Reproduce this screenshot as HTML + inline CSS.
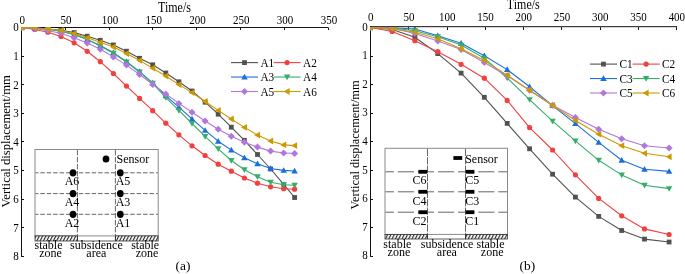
<!DOCTYPE html>
<html><head><meta charset="utf-8"><title>Vertical displacement</title>
<style>
html,body{margin:0;padding:0;background:#fff;}
body{width:685px;height:274px;overflow:hidden;}
svg{display:block;will-change:transform;}
text{font-family:"Liberation Serif",serif;fill:#000;}
.tk{font-size:11px;}
.ti{font-size:12px;}
.lg{font-size:11.3px;}
.in{font-size:12px;}
.pl{font-size:13.4px;}
</style></head><body>
<svg width="685" height="274" viewBox="0 0 685 274">
<defs>
<clipPath id="clipL"><rect x="21" y="27" width="320" height="240"/></clipPath>
<clipPath id="clipR"><rect x="370" y="27" width="320" height="240"/></clipPath>
<pattern id="hatch" patternUnits="userSpaceOnUse" width="2.95" height="4" patternTransform="rotate(27)">
<rect width="2.95" height="4" fill="#fff"/><rect x="0" y="0" width="1.15" height="4" fill="#2a2a2a"/>
</pattern>
</defs>
<rect width="685" height="274" fill="#fff"/>
<rect x="35" y="149.5" width="123.19999999999999" height="86.4" fill="#fff" stroke="#8a8a8a" stroke-width="1"/>
<rect x="35" y="235.9" width="42.400000000000006" height="5.099999999999994" fill="url(#hatch)" stroke="#333" stroke-width="0.8"/>
<rect x="115.4" y="235.9" width="42.79999999999998" height="5.099999999999994" fill="url(#hatch)" stroke="#333" stroke-width="0.8"/>
<line x1="77.4" y1="241" x2="115.4" y2="241" stroke="#333" stroke-width="0.8"/>
<line x1="35.5" y1="172.8" x2="157.7" y2="172.8" stroke="#555" stroke-width="0.9" stroke-dasharray="4.5 1.92" stroke-dashoffset="1.6"/>
<line x1="35.5" y1="193.6" x2="157.7" y2="193.6" stroke="#555" stroke-width="0.9" stroke-dasharray="4.5 1.92" stroke-dashoffset="1.6"/>
<line x1="35.5" y1="214.3" x2="157.7" y2="214.3" stroke="#555" stroke-width="0.9" stroke-dasharray="4.5 1.92" stroke-dashoffset="1.6"/>
<line x1="77.4" y1="150.0" x2="77.4" y2="235.9" stroke="#555" stroke-width="0.9" stroke-dasharray="5.4 1.6" stroke-dashoffset="0"/>
<line x1="77.4" y1="235.9" x2="77.4" y2="241" stroke="#333" stroke-width="0.9"/>
<line x1="115.4" y1="150.0" x2="115.4" y2="235.9" stroke="#555" stroke-width="0.9" stroke-dasharray="5.4 1.6" stroke-dashoffset="0"/>
<line x1="115.4" y1="235.9" x2="115.4" y2="241" stroke="#333" stroke-width="0.9"/>
<ellipse cx="106" cy="159" rx="3.4" ry="3.6" fill="#000"/>
<ellipse cx="73" cy="172.8" rx="3.4" ry="3.6" fill="#000"/>
<ellipse cx="120.3" cy="172.8" rx="3.4" ry="3.6" fill="#000"/>
<ellipse cx="73" cy="193.6" rx="3.4" ry="3.6" fill="#000"/>
<ellipse cx="120.3" cy="193.6" rx="3.4" ry="3.6" fill="#000"/>
<ellipse cx="73" cy="214.3" rx="3.4" ry="3.6" fill="#000"/>
<ellipse cx="120.3" cy="214.3" rx="3.4" ry="3.6" fill="#000"/>
<text transform="translate(116.60,163.20) scale(1,1.0)" text-anchor="start" class="in">Sensor</text>
<text transform="translate(72.00,185.40) scale(1,1.0)" text-anchor="middle" class="in">A6</text>
<text transform="translate(123.00,185.40) scale(1,1.0)" text-anchor="middle" class="in">A5</text>
<text transform="translate(72.00,206.20) scale(1,1.0)" text-anchor="middle" class="in">A4</text>
<text transform="translate(123.00,206.20) scale(1,1.0)" text-anchor="middle" class="in">A3</text>
<text transform="translate(72.00,226.90) scale(1,1.0)" text-anchor="middle" class="in">A2</text>
<text transform="translate(123.00,226.90) scale(1,1.0)" text-anchor="middle" class="in">A1</text>
<text transform="translate(48.50,248.80) scale(1,1.0)" text-anchor="middle" class="in">stable</text>
<text transform="translate(50.50,256.90) scale(1,1.0)" text-anchor="middle" class="in">zone</text>
<text transform="translate(96.40,248.80) scale(1,1.0)" text-anchor="middle" class="in">subsidence</text>
<text transform="translate(96.30,256.90) scale(1,1.0)" text-anchor="middle" class="in">area</text>
<text transform="translate(145.20,248.80) scale(1,1.0)" text-anchor="middle" class="in">stable</text>
<text transform="translate(147.10,256.90) scale(1,1.0)" text-anchor="middle" class="in">zone</text>
<rect x="385" y="148.3" width="122.5" height="86.1" fill="#fff" stroke="#8a8a8a" stroke-width="1"/>
<rect x="385" y="234.4" width="42.5" height="4.599999999999994" fill="url(#hatch)" stroke="#333" stroke-width="0.8"/>
<rect x="465.5" y="234.4" width="42.0" height="4.599999999999994" fill="url(#hatch)" stroke="#333" stroke-width="0.8"/>
<line x1="427.5" y1="239.0" x2="465.5" y2="239.0" stroke="#333" stroke-width="0.8"/>
<line x1="385.5" y1="171.8" x2="507.0" y2="171.8" stroke="#555" stroke-width="0.9" stroke-dasharray="16.2 3.9" stroke-dashoffset="7.8"/>
<line x1="385.5" y1="191.8" x2="507.0" y2="191.8" stroke="#555" stroke-width="0.9" stroke-dasharray="16.2 3.9" stroke-dashoffset="7.8"/>
<line x1="385.5" y1="212.2" x2="507.0" y2="212.2" stroke="#555" stroke-width="0.9" stroke-dasharray="16.2 3.9" stroke-dashoffset="7.8"/>
<line x1="427.5" y1="148.8" x2="427.5" y2="234.4" stroke="#555" stroke-width="0.9" stroke-dasharray="7.2 1.2" stroke-dashoffset="0"/>
<line x1="427.5" y1="234.4" x2="427.5" y2="239.0" stroke="#333" stroke-width="0.9"/>
<line x1="465.5" y1="148.8" x2="465.5" y2="234.4" stroke="#555" stroke-width="0.9" stroke-dasharray="7.2 1.2" stroke-dashoffset="0"/>
<line x1="465.5" y1="234.4" x2="465.5" y2="239.0" stroke="#333" stroke-width="0.9"/>
<rect x="453.4" y="156.1" width="8.8" height="3.8" fill="#000"/>
<rect x="418.4" y="169.9" width="8.8" height="3.8" fill="#000"/>
<rect x="465.6" y="169.9" width="8.8" height="3.8" fill="#000"/>
<rect x="418.4" y="189.9" width="8.8" height="3.8" fill="#000"/>
<rect x="465.6" y="189.9" width="8.8" height="3.8" fill="#000"/>
<rect x="418.4" y="210.29999999999998" width="8.8" height="3.8" fill="#000"/>
<rect x="465.6" y="210.29999999999998" width="8.8" height="3.8" fill="#000"/>
<text transform="translate(465.20,162.60) scale(1,1.0)" text-anchor="start" class="in">Sensor</text>
<text transform="translate(426.40,183.90) scale(1,1.0)" text-anchor="end" class="in">C6</text>
<text transform="translate(465.20,183.90) scale(1,1.0)" text-anchor="start" class="in">C5</text>
<text transform="translate(426.40,204.50) scale(1,1.0)" text-anchor="end" class="in">C4</text>
<text transform="translate(465.20,204.50) scale(1,1.0)" text-anchor="start" class="in">C3</text>
<text transform="translate(426.40,225.10) scale(1,1.0)" text-anchor="end" class="in">C2</text>
<text transform="translate(465.20,225.10) scale(1,1.0)" text-anchor="start" class="in">C1</text>
<text transform="translate(397.30,248.20) scale(1,1.0)" text-anchor="middle" class="in">stable</text>
<text transform="translate(398.90,256.30) scale(1,1.0)" text-anchor="middle" class="in">zone</text>
<text transform="translate(447.10,248.20) scale(1,1.0)" text-anchor="middle" class="in">subsidence</text>
<text transform="translate(446.80,256.30) scale(1,1.0)" text-anchor="middle" class="in">area</text>
<text transform="translate(490.50,248.20) scale(1,1.0)" text-anchor="middle" class="in">stable</text>
<text transform="translate(492.20,256.30) scale(1,1.0)" text-anchor="middle" class="in">zone</text>
<line x1="21.00" y1="27.5" x2="328.60" y2="27.5" stroke="#111" stroke-width="1"/>
<line x1="21.50" y1="28.0" x2="21.50" y2="30" stroke="#111" stroke-width="1"/>
<text transform="translate(22.30,23.60) scale(1,1.2)" text-anchor="middle" class="tk">0</text>
<line x1="65.50" y1="28.0" x2="65.50" y2="30" stroke="#111" stroke-width="1"/>
<text transform="translate(66.10,23.60) scale(1,1.2)" text-anchor="middle" class="tk">50</text>
<line x1="109.50" y1="28.0" x2="109.50" y2="30" stroke="#111" stroke-width="1"/>
<text transform="translate(109.90,23.60) scale(1,1.2)" text-anchor="middle" class="tk">100</text>
<line x1="152.50" y1="28.0" x2="152.50" y2="30" stroke="#111" stroke-width="1"/>
<text transform="translate(153.70,23.60) scale(1,1.2)" text-anchor="middle" class="tk">150</text>
<line x1="196.50" y1="28.0" x2="196.50" y2="30" stroke="#111" stroke-width="1"/>
<text transform="translate(197.50,23.60) scale(1,1.2)" text-anchor="middle" class="tk">200</text>
<line x1="240.50" y1="28.0" x2="240.50" y2="30" stroke="#111" stroke-width="1"/>
<text transform="translate(241.30,23.60) scale(1,1.2)" text-anchor="middle" class="tk">250</text>
<line x1="284.50" y1="28.0" x2="284.50" y2="30" stroke="#111" stroke-width="1"/>
<text transform="translate(285.10,23.60) scale(1,1.2)" text-anchor="middle" class="tk">300</text>
<line x1="328.50" y1="28.0" x2="328.50" y2="30" stroke="#111" stroke-width="1"/>
<text transform="translate(328.90,23.60) scale(1,1.2)" text-anchor="middle" class="tk">350</text>
<line x1="21.50" y1="27.0" x2="21.50" y2="256.9" stroke="#111" stroke-width="1"/>
<line x1="22.00" y1="27.50" x2="24.00" y2="27.50" stroke="#111" stroke-width="1"/>
<text transform="translate(18.70,31.30) scale(1,1.2)" text-anchor="end" class="tk">0</text>
<line x1="22.00" y1="56.50" x2="24.00" y2="56.50" stroke="#111" stroke-width="1"/>
<text transform="translate(18.70,59.91) scale(1,1.2)" text-anchor="end" class="tk">1</text>
<line x1="22.00" y1="84.50" x2="24.00" y2="84.50" stroke="#111" stroke-width="1"/>
<text transform="translate(18.70,88.52) scale(1,1.2)" text-anchor="end" class="tk">2</text>
<line x1="22.00" y1="113.50" x2="24.00" y2="113.50" stroke="#111" stroke-width="1"/>
<text transform="translate(18.70,117.13) scale(1,1.2)" text-anchor="end" class="tk">3</text>
<line x1="22.00" y1="141.50" x2="24.00" y2="141.50" stroke="#111" stroke-width="1"/>
<text transform="translate(18.70,145.74) scale(1,1.2)" text-anchor="end" class="tk">4</text>
<line x1="22.00" y1="170.50" x2="24.00" y2="170.50" stroke="#111" stroke-width="1"/>
<text transform="translate(18.70,174.35) scale(1,1.2)" text-anchor="end" class="tk">5</text>
<line x1="22.00" y1="199.50" x2="24.00" y2="199.50" stroke="#111" stroke-width="1"/>
<text transform="translate(18.70,202.96) scale(1,1.2)" text-anchor="end" class="tk">6</text>
<line x1="22.00" y1="227.50" x2="24.00" y2="227.50" stroke="#111" stroke-width="1"/>
<text transform="translate(18.70,231.57) scale(1,1.2)" text-anchor="end" class="tk">7</text>
<line x1="22.00" y1="256.50" x2="24.00" y2="256.50" stroke="#111" stroke-width="1"/>
<text transform="translate(18.70,260.18) scale(1,1.2)" text-anchor="end" class="tk">8</text>
<g clip-path="url(#clipL)">
<polyline points="21.70,27.50 34.80,28.00 47.90,29.00 61.00,30.30 74.10,32.60 87.20,36.20 100.30,40.30 113.40,44.90 126.50,51.20 139.60,58.30 152.70,64.80 165.80,73.00 178.90,81.80 192.00,91.00 205.10,102.20 218.20,114.20 231.30,127.20 244.40,140.30 257.50,154.50 270.60,169.00 283.70,184.40 294.60,197.50" fill="none" stroke="#515151" stroke-width="1.1" stroke-linejoin="round"/>
<rect x="19.30" y="25.10" width="4.80" height="4.80" fill="#515151"/>
<rect x="32.40" y="25.60" width="4.80" height="4.80" fill="#515151"/>
<rect x="45.50" y="26.60" width="4.80" height="4.80" fill="#515151"/>
<rect x="58.60" y="27.90" width="4.80" height="4.80" fill="#515151"/>
<rect x="71.70" y="30.20" width="4.80" height="4.80" fill="#515151"/>
<rect x="84.80" y="33.80" width="4.80" height="4.80" fill="#515151"/>
<rect x="97.90" y="37.90" width="4.80" height="4.80" fill="#515151"/>
<rect x="111.00" y="42.50" width="4.80" height="4.80" fill="#515151"/>
<rect x="124.10" y="48.80" width="4.80" height="4.80" fill="#515151"/>
<rect x="137.20" y="55.90" width="4.80" height="4.80" fill="#515151"/>
<rect x="150.30" y="62.40" width="4.80" height="4.80" fill="#515151"/>
<rect x="163.40" y="70.60" width="4.80" height="4.80" fill="#515151"/>
<rect x="176.50" y="79.40" width="4.80" height="4.80" fill="#515151"/>
<rect x="189.60" y="88.60" width="4.80" height="4.80" fill="#515151"/>
<rect x="202.70" y="99.80" width="4.80" height="4.80" fill="#515151"/>
<rect x="215.80" y="111.80" width="4.80" height="4.80" fill="#515151"/>
<rect x="228.90" y="124.80" width="4.80" height="4.80" fill="#515151"/>
<rect x="242.00" y="137.90" width="4.80" height="4.80" fill="#515151"/>
<rect x="255.10" y="152.10" width="4.80" height="4.80" fill="#515151"/>
<rect x="268.20" y="166.60" width="4.80" height="4.80" fill="#515151"/>
<rect x="281.30" y="182.00" width="4.80" height="4.80" fill="#515151"/>
<rect x="292.20" y="195.10" width="4.80" height="4.80" fill="#515151"/>
<polyline points="21.70,27.50 34.80,29.50 47.90,32.20 61.00,36.40 74.10,42.80 87.20,51.30 100.30,61.70 113.40,73.50 126.50,86.10 139.60,98.40 152.70,110.70 165.80,123.20 178.90,134.80 192.00,145.80 205.10,155.50 218.20,164.20 231.30,171.20 244.40,178.00 257.50,183.20 270.60,186.80 283.70,188.70 294.60,189.20" fill="none" stroke="#F14040" stroke-width="1.1" stroke-linejoin="round"/>
<circle cx="21.70" cy="27.50" r="2.60" fill="#F14040"/>
<circle cx="34.80" cy="29.50" r="2.60" fill="#F14040"/>
<circle cx="47.90" cy="32.20" r="2.60" fill="#F14040"/>
<circle cx="61.00" cy="36.40" r="2.60" fill="#F14040"/>
<circle cx="74.10" cy="42.80" r="2.60" fill="#F14040"/>
<circle cx="87.20" cy="51.30" r="2.60" fill="#F14040"/>
<circle cx="100.30" cy="61.70" r="2.60" fill="#F14040"/>
<circle cx="113.40" cy="73.50" r="2.60" fill="#F14040"/>
<circle cx="126.50" cy="86.10" r="2.60" fill="#F14040"/>
<circle cx="139.60" cy="98.40" r="2.60" fill="#F14040"/>
<circle cx="152.70" cy="110.70" r="2.60" fill="#F14040"/>
<circle cx="165.80" cy="123.20" r="2.60" fill="#F14040"/>
<circle cx="178.90" cy="134.80" r="2.60" fill="#F14040"/>
<circle cx="192.00" cy="145.80" r="2.60" fill="#F14040"/>
<circle cx="205.10" cy="155.50" r="2.60" fill="#F14040"/>
<circle cx="218.20" cy="164.20" r="2.60" fill="#F14040"/>
<circle cx="231.30" cy="171.20" r="2.60" fill="#F14040"/>
<circle cx="244.40" cy="178.00" r="2.60" fill="#F14040"/>
<circle cx="257.50" cy="183.20" r="2.60" fill="#F14040"/>
<circle cx="270.60" cy="186.80" r="2.60" fill="#F14040"/>
<circle cx="283.70" cy="188.70" r="2.60" fill="#F14040"/>
<circle cx="294.60" cy="189.20" r="2.60" fill="#F14040"/>
<polyline points="21.70,27.50 34.80,28.00 47.90,29.30 61.00,31.20 74.10,34.50 87.20,39.50 100.30,45.50 113.40,52.80 126.50,61.80 139.60,71.80 152.70,83.00 165.80,95.80 178.90,107.20 192.00,118.90 205.10,130.40 218.20,141.20 231.30,150.10 244.40,157.80 257.50,163.80 270.60,168.50 283.70,170.40 294.60,171.00" fill="none" stroke="#1A6FDF" stroke-width="1.1" stroke-linejoin="round"/>
<path d="M21.70 24.25L24.95 29.94L18.45 29.94Z" fill="#1A6FDF"/>
<path d="M34.80 24.75L38.05 30.44L31.55 30.44Z" fill="#1A6FDF"/>
<path d="M47.90 26.05L51.15 31.74L44.65 31.74Z" fill="#1A6FDF"/>
<path d="M61.00 27.95L64.25 33.64L57.75 33.64Z" fill="#1A6FDF"/>
<path d="M74.10 31.25L77.35 36.94L70.85 36.94Z" fill="#1A6FDF"/>
<path d="M87.20 36.25L90.45 41.94L83.95 41.94Z" fill="#1A6FDF"/>
<path d="M100.30 42.25L103.55 47.94L97.05 47.94Z" fill="#1A6FDF"/>
<path d="M113.40 49.55L116.65 55.24L110.15 55.24Z" fill="#1A6FDF"/>
<path d="M126.50 58.55L129.75 64.24L123.25 64.24Z" fill="#1A6FDF"/>
<path d="M139.60 68.55L142.85 74.24L136.35 74.24Z" fill="#1A6FDF"/>
<path d="M152.70 79.75L155.95 85.44L149.45 85.44Z" fill="#1A6FDF"/>
<path d="M165.80 92.55L169.05 98.24L162.55 98.24Z" fill="#1A6FDF"/>
<path d="M178.90 103.95L182.15 109.64L175.65 109.64Z" fill="#1A6FDF"/>
<path d="M192.00 115.65L195.25 121.34L188.75 121.34Z" fill="#1A6FDF"/>
<path d="M205.10 127.15L208.35 132.84L201.85 132.84Z" fill="#1A6FDF"/>
<path d="M218.20 137.95L221.45 143.64L214.95 143.64Z" fill="#1A6FDF"/>
<path d="M231.30 146.85L234.55 152.54L228.05 152.54Z" fill="#1A6FDF"/>
<path d="M244.40 154.55L247.65 160.24L241.15 160.24Z" fill="#1A6FDF"/>
<path d="M257.50 160.55L260.75 166.24L254.25 166.24Z" fill="#1A6FDF"/>
<path d="M270.60 165.25L273.85 170.94L267.35 170.94Z" fill="#1A6FDF"/>
<path d="M283.70 167.15L286.95 172.84L280.45 172.84Z" fill="#1A6FDF"/>
<path d="M294.60 167.75L297.85 173.44L291.35 173.44Z" fill="#1A6FDF"/>
<polyline points="21.70,27.50 34.80,28.00 47.90,29.30 61.00,31.20 74.10,34.50 87.20,39.50 100.30,45.90 113.40,53.20 126.50,62.00 139.60,72.00 152.70,83.30 165.80,97.60 178.90,110.40 192.00,123.50 205.10,136.40 218.20,148.80 231.30,160.50 244.40,169.80 257.50,176.80 270.60,182.30 283.70,184.70 294.60,185.30" fill="none" stroke="#37AD6B" stroke-width="1.1" stroke-linejoin="round"/>
<path d="M21.70 30.75L24.95 25.06L18.45 25.06Z" fill="#37AD6B"/>
<path d="M34.80 31.25L38.05 25.56L31.55 25.56Z" fill="#37AD6B"/>
<path d="M47.90 32.55L51.15 26.86L44.65 26.86Z" fill="#37AD6B"/>
<path d="M61.00 34.45L64.25 28.76L57.75 28.76Z" fill="#37AD6B"/>
<path d="M74.10 37.75L77.35 32.06L70.85 32.06Z" fill="#37AD6B"/>
<path d="M87.20 42.75L90.45 37.06L83.95 37.06Z" fill="#37AD6B"/>
<path d="M100.30 49.15L103.55 43.46L97.05 43.46Z" fill="#37AD6B"/>
<path d="M113.40 56.45L116.65 50.76L110.15 50.76Z" fill="#37AD6B"/>
<path d="M126.50 65.25L129.75 59.56L123.25 59.56Z" fill="#37AD6B"/>
<path d="M139.60 75.25L142.85 69.56L136.35 69.56Z" fill="#37AD6B"/>
<path d="M152.70 86.55L155.95 80.86L149.45 80.86Z" fill="#37AD6B"/>
<path d="M165.80 100.85L169.05 95.16L162.55 95.16Z" fill="#37AD6B"/>
<path d="M178.90 113.65L182.15 107.96L175.65 107.96Z" fill="#37AD6B"/>
<path d="M192.00 126.75L195.25 121.06L188.75 121.06Z" fill="#37AD6B"/>
<path d="M205.10 139.65L208.35 133.96L201.85 133.96Z" fill="#37AD6B"/>
<path d="M218.20 152.05L221.45 146.36L214.95 146.36Z" fill="#37AD6B"/>
<path d="M231.30 163.75L234.55 158.06L228.05 158.06Z" fill="#37AD6B"/>
<path d="M244.40 173.05L247.65 167.36L241.15 167.36Z" fill="#37AD6B"/>
<path d="M257.50 180.05L260.75 174.36L254.25 174.36Z" fill="#37AD6B"/>
<path d="M270.60 185.55L273.85 179.86L267.35 179.86Z" fill="#37AD6B"/>
<path d="M283.70 187.95L286.95 182.26L280.45 182.26Z" fill="#37AD6B"/>
<path d="M294.60 188.55L297.85 182.86L291.35 182.86Z" fill="#37AD6B"/>
<polyline points="21.70,27.50 34.80,28.50 47.90,30.80 61.00,33.30 74.10,37.80 87.20,43.00 100.30,49.20 113.40,56.90 126.50,65.10 139.60,74.50 152.70,84.40 165.80,94.00 178.90,103.40 192.00,112.30 205.10,121.00 218.20,129.20 231.30,136.30 244.40,142.30 257.50,147.10 270.60,151.10 283.70,153.00 294.60,153.40" fill="none" stroke="#B177DE" stroke-width="1.1" stroke-linejoin="round"/>
<path d="M21.70 23.99L25.21 27.50L21.70 31.01L18.19 27.50Z" fill="#B177DE"/>
<path d="M34.80 24.99L38.31 28.50L34.80 32.01L31.29 28.50Z" fill="#B177DE"/>
<path d="M47.90 27.29L51.41 30.80L47.90 34.31L44.39 30.80Z" fill="#B177DE"/>
<path d="M61.00 29.79L64.51 33.30L61.00 36.81L57.49 33.30Z" fill="#B177DE"/>
<path d="M74.10 34.29L77.61 37.80L74.10 41.31L70.59 37.80Z" fill="#B177DE"/>
<path d="M87.20 39.49L90.71 43.00L87.20 46.51L83.69 43.00Z" fill="#B177DE"/>
<path d="M100.30 45.69L103.81 49.20L100.30 52.71L96.79 49.20Z" fill="#B177DE"/>
<path d="M113.40 53.39L116.91 56.90L113.40 60.41L109.89 56.90Z" fill="#B177DE"/>
<path d="M126.50 61.59L130.01 65.10L126.50 68.61L122.99 65.10Z" fill="#B177DE"/>
<path d="M139.60 70.99L143.11 74.50L139.60 78.01L136.09 74.50Z" fill="#B177DE"/>
<path d="M152.70 80.89L156.21 84.40L152.70 87.91L149.19 84.40Z" fill="#B177DE"/>
<path d="M165.80 90.49L169.31 94.00L165.80 97.51L162.29 94.00Z" fill="#B177DE"/>
<path d="M178.90 99.89L182.41 103.40L178.90 106.91L175.39 103.40Z" fill="#B177DE"/>
<path d="M192.00 108.79L195.51 112.30L192.00 115.81L188.49 112.30Z" fill="#B177DE"/>
<path d="M205.10 117.49L208.61 121.00L205.10 124.51L201.59 121.00Z" fill="#B177DE"/>
<path d="M218.20 125.69L221.71 129.20L218.20 132.71L214.69 129.20Z" fill="#B177DE"/>
<path d="M231.30 132.79L234.81 136.30L231.30 139.81L227.79 136.30Z" fill="#B177DE"/>
<path d="M244.40 138.79L247.91 142.30L244.40 145.81L240.89 142.30Z" fill="#B177DE"/>
<path d="M257.50 143.59L261.01 147.10L257.50 150.61L253.99 147.10Z" fill="#B177DE"/>
<path d="M270.60 147.59L274.11 151.10L270.60 154.61L267.09 151.10Z" fill="#B177DE"/>
<path d="M283.70 149.49L287.21 153.00L283.70 156.51L280.19 153.00Z" fill="#B177DE"/>
<path d="M294.60 149.89L298.11 153.40L294.60 156.91L291.09 153.40Z" fill="#B177DE"/>
<polyline points="21.70,27.50 34.80,27.80 47.90,29.00 61.00,30.50 74.10,33.60 87.20,37.80 100.30,42.30 113.40,47.00 126.50,53.50 139.60,60.40 152.70,68.20 165.80,76.00 178.90,84.60 192.00,92.60 205.10,101.50 218.20,110.40 231.30,119.00 244.40,127.40 257.50,135.10 270.60,141.00 283.70,144.90 294.60,145.60" fill="none" stroke="#CC9900" stroke-width="1.1" stroke-linejoin="round"/>
<path d="M18.32 27.50L24.23 24.12L24.23 30.88Z" fill="#CC9900"/>
<path d="M31.42 27.80L37.33 24.42L37.33 31.18Z" fill="#CC9900"/>
<path d="M44.52 29.00L50.44 25.62L50.44 32.38Z" fill="#CC9900"/>
<path d="M57.62 30.50L63.53 27.12L63.53 33.88Z" fill="#CC9900"/>
<path d="M70.72 33.60L76.63 30.22L76.63 36.98Z" fill="#CC9900"/>
<path d="M83.82 37.80L89.73 34.42L89.73 41.18Z" fill="#CC9900"/>
<path d="M96.92 42.30L102.83 38.92L102.83 45.68Z" fill="#CC9900"/>
<path d="M110.02 47.00L115.94 43.62L115.94 50.38Z" fill="#CC9900"/>
<path d="M123.12 53.50L129.03 50.12L129.03 56.88Z" fill="#CC9900"/>
<path d="M136.22 60.40L142.13 57.02L142.13 63.78Z" fill="#CC9900"/>
<path d="M149.32 68.20L155.23 64.82L155.23 71.58Z" fill="#CC9900"/>
<path d="M162.42 76.00L168.33 72.62L168.33 79.38Z" fill="#CC9900"/>
<path d="M175.52 84.60L181.43 81.22L181.43 87.98Z" fill="#CC9900"/>
<path d="M188.62 92.60L194.53 89.22L194.53 95.98Z" fill="#CC9900"/>
<path d="M201.72 101.50L207.63 98.12L207.63 104.88Z" fill="#CC9900"/>
<path d="M214.82 110.40L220.73 107.02L220.73 113.78Z" fill="#CC9900"/>
<path d="M227.92 119.00L233.83 115.62L233.83 122.38Z" fill="#CC9900"/>
<path d="M241.02 127.40L246.93 124.02L246.93 130.78Z" fill="#CC9900"/>
<path d="M254.12 135.10L260.04 131.72L260.04 138.48Z" fill="#CC9900"/>
<path d="M267.22 141.00L273.14 137.62L273.14 144.38Z" fill="#CC9900"/>
<path d="M280.32 144.90L286.24 141.52L286.24 148.28Z" fill="#CC9900"/>
<path d="M291.22 145.60L297.14 142.22L297.14 148.98Z" fill="#CC9900"/>
</g>
<text transform="translate(174.50,11.70) scale(1,1.15)" text-anchor="middle" class="ti">Time/s</text>
<text transform="translate(9.70,141.30) rotate(-90) scale(1.054,1)" text-anchor="middle" class="ti">Vertical displacement/mm</text>
<text transform="translate(183.00,270.30) scale(1,1.0)" text-anchor="middle" class="pl">(a)</text>
<line x1="231.00" y1="62.60" x2="258.00" y2="62.60" stroke="#515151" stroke-width="1.1"/>
<rect x="242.10" y="60.20" width="4.80" height="4.80" fill="#515151"/>
<text transform="translate(260.40,66.70) scale(1,1.08)" text-anchor="start" class="lg">A1</text>
<line x1="273.60" y1="62.60" x2="300.60" y2="62.60" stroke="#F14040" stroke-width="1.1"/>
<circle cx="287.10" cy="62.60" r="2.60" fill="#F14040"/>
<text transform="translate(303.00,66.70) scale(1,1.08)" text-anchor="start" class="lg">A2</text>
<line x1="231.00" y1="77.05" x2="258.00" y2="77.05" stroke="#1A6FDF" stroke-width="1.1"/>
<path d="M244.50 73.80L247.75 79.49L241.25 79.49Z" fill="#1A6FDF"/>
<text transform="translate(260.40,81.15) scale(1,1.08)" text-anchor="start" class="lg">A3</text>
<line x1="273.60" y1="77.05" x2="300.60" y2="77.05" stroke="#37AD6B" stroke-width="1.1"/>
<path d="M287.10 80.30L290.35 74.61L283.85 74.61Z" fill="#37AD6B"/>
<text transform="translate(303.00,81.15) scale(1,1.08)" text-anchor="start" class="lg">A4</text>
<line x1="231.00" y1="91.50" x2="258.00" y2="91.50" stroke="#B177DE" stroke-width="1.1"/>
<path d="M244.50 87.99L248.01 91.50L244.50 95.01L240.99 91.50Z" fill="#B177DE"/>
<text transform="translate(260.40,95.60) scale(1,1.08)" text-anchor="start" class="lg">A5</text>
<line x1="273.60" y1="91.50" x2="300.60" y2="91.50" stroke="#CC9900" stroke-width="1.1"/>
<path d="M283.72 91.50L289.64 88.12L289.64 94.88Z" fill="#CC9900"/>
<text transform="translate(303.00,95.60) scale(1,1.08)" text-anchor="start" class="lg">A6</text>
<line x1="370.00" y1="26.7" x2="677.16" y2="26.7" stroke="#111" stroke-width="1"/>
<line x1="370.50" y1="27.2" x2="370.50" y2="30" stroke="#111" stroke-width="1"/>
<text transform="translate(370.70,20.90) scale(1,1.2)" text-anchor="middle" class="tk">0</text>
<line x1="408.50" y1="27.2" x2="408.50" y2="30" stroke="#111" stroke-width="1"/>
<text transform="translate(408.97,20.90) scale(1,1.2)" text-anchor="middle" class="tk">50</text>
<line x1="447.50" y1="27.2" x2="447.50" y2="30" stroke="#111" stroke-width="1"/>
<text transform="translate(447.24,20.90) scale(1,1.2)" text-anchor="middle" class="tk">100</text>
<line x1="485.50" y1="27.2" x2="485.50" y2="30" stroke="#111" stroke-width="1"/>
<text transform="translate(485.51,20.90) scale(1,1.2)" text-anchor="middle" class="tk">150</text>
<line x1="523.50" y1="27.2" x2="523.50" y2="30" stroke="#111" stroke-width="1"/>
<text transform="translate(523.78,20.90) scale(1,1.2)" text-anchor="middle" class="tk">200</text>
<line x1="561.50" y1="27.2" x2="561.50" y2="30" stroke="#111" stroke-width="1"/>
<text transform="translate(562.05,20.90) scale(1,1.2)" text-anchor="middle" class="tk">250</text>
<line x1="600.50" y1="27.2" x2="600.50" y2="30" stroke="#111" stroke-width="1"/>
<text transform="translate(600.32,20.90) scale(1,1.2)" text-anchor="middle" class="tk">300</text>
<line x1="638.50" y1="27.2" x2="638.50" y2="30" stroke="#111" stroke-width="1"/>
<text transform="translate(638.59,20.90) scale(1,1.2)" text-anchor="middle" class="tk">350</text>
<line x1="676.50" y1="27.2" x2="676.50" y2="30" stroke="#111" stroke-width="1"/>
<text transform="translate(676.86,20.90) scale(1,1.2)" text-anchor="middle" class="tk">400</text>
<line x1="370.50" y1="26.2" x2="370.50" y2="256.9" stroke="#111" stroke-width="1"/>
<line x1="371.00" y1="27.50" x2="373.00" y2="27.50" stroke="#111" stroke-width="1"/>
<text transform="translate(367.70,30.60) scale(1,1.2)" text-anchor="end" class="tk">0</text>
<line x1="371.00" y1="56.50" x2="373.00" y2="56.50" stroke="#111" stroke-width="1"/>
<text transform="translate(367.70,59.21) scale(1,1.2)" text-anchor="end" class="tk">1</text>
<line x1="371.00" y1="84.50" x2="373.00" y2="84.50" stroke="#111" stroke-width="1"/>
<text transform="translate(367.70,87.82) scale(1,1.2)" text-anchor="end" class="tk">2</text>
<line x1="371.00" y1="113.50" x2="373.00" y2="113.50" stroke="#111" stroke-width="1"/>
<text transform="translate(367.70,116.43) scale(1,1.2)" text-anchor="end" class="tk">3</text>
<line x1="371.00" y1="141.50" x2="373.00" y2="141.50" stroke="#111" stroke-width="1"/>
<text transform="translate(367.70,145.04) scale(1,1.2)" text-anchor="end" class="tk">4</text>
<line x1="371.00" y1="170.50" x2="373.00" y2="170.50" stroke="#111" stroke-width="1"/>
<text transform="translate(367.70,173.65) scale(1,1.2)" text-anchor="end" class="tk">5</text>
<line x1="371.00" y1="199.50" x2="373.00" y2="199.50" stroke="#111" stroke-width="1"/>
<text transform="translate(367.70,202.26) scale(1,1.2)" text-anchor="end" class="tk">6</text>
<line x1="371.00" y1="227.50" x2="373.00" y2="227.50" stroke="#111" stroke-width="1"/>
<text transform="translate(367.70,230.87) scale(1,1.2)" text-anchor="end" class="tk">7</text>
<line x1="371.00" y1="256.50" x2="373.00" y2="256.50" stroke="#111" stroke-width="1"/>
<text transform="translate(367.70,259.48) scale(1,1.2)" text-anchor="end" class="tk">8</text>
<g clip-path="url(#clipR)">
<polyline points="370.00,27.50 392.20,29.50 414.90,37.30 437.80,53.60 461.10,73.10 484.30,97.30 507.20,123.40 529.60,148.80 552.60,174.20 575.40,197.10 598.70,216.40 621.70,230.50 644.50,239.10 669.10,242.00" fill="none" stroke="#515151" stroke-width="1.1" stroke-linejoin="round"/>
<rect x="367.60" y="25.10" width="4.80" height="4.80" fill="#515151"/>
<rect x="389.80" y="27.10" width="4.80" height="4.80" fill="#515151"/>
<rect x="412.50" y="34.90" width="4.80" height="4.80" fill="#515151"/>
<rect x="435.40" y="51.20" width="4.80" height="4.80" fill="#515151"/>
<rect x="458.70" y="70.70" width="4.80" height="4.80" fill="#515151"/>
<rect x="481.90" y="94.90" width="4.80" height="4.80" fill="#515151"/>
<rect x="504.80" y="121.00" width="4.80" height="4.80" fill="#515151"/>
<rect x="527.20" y="146.40" width="4.80" height="4.80" fill="#515151"/>
<rect x="550.20" y="171.80" width="4.80" height="4.80" fill="#515151"/>
<rect x="573.00" y="194.70" width="4.80" height="4.80" fill="#515151"/>
<rect x="596.30" y="214.00" width="4.80" height="4.80" fill="#515151"/>
<rect x="619.30" y="228.10" width="4.80" height="4.80" fill="#515151"/>
<rect x="642.10" y="236.70" width="4.80" height="4.80" fill="#515151"/>
<rect x="666.70" y="239.60" width="4.80" height="4.80" fill="#515151"/>
<polyline points="370.00,27.50 392.20,31.50 414.90,40.70 437.80,51.70 461.10,64.30 484.30,78.20 507.20,100.40 529.60,127.60 552.60,150.00 575.40,174.80 598.70,198.40 621.70,215.80 644.50,228.90 669.10,234.50" fill="none" stroke="#F14040" stroke-width="1.1" stroke-linejoin="round"/>
<circle cx="370.00" cy="27.50" r="2.60" fill="#F14040"/>
<circle cx="392.20" cy="31.50" r="2.60" fill="#F14040"/>
<circle cx="414.90" cy="40.70" r="2.60" fill="#F14040"/>
<circle cx="437.80" cy="51.70" r="2.60" fill="#F14040"/>
<circle cx="461.10" cy="64.30" r="2.60" fill="#F14040"/>
<circle cx="484.30" cy="78.20" r="2.60" fill="#F14040"/>
<circle cx="507.20" cy="100.40" r="2.60" fill="#F14040"/>
<circle cx="529.60" cy="127.60" r="2.60" fill="#F14040"/>
<circle cx="552.60" cy="150.00" r="2.60" fill="#F14040"/>
<circle cx="575.40" cy="174.80" r="2.60" fill="#F14040"/>
<circle cx="598.70" cy="198.40" r="2.60" fill="#F14040"/>
<circle cx="621.70" cy="215.80" r="2.60" fill="#F14040"/>
<circle cx="644.50" cy="228.90" r="2.60" fill="#F14040"/>
<circle cx="669.10" cy="234.50" r="2.60" fill="#F14040"/>
<polyline points="370.00,27.50 392.20,27.80 414.90,29.00 437.80,35.80 461.10,43.30 484.30,55.80 507.20,69.60 529.60,86.80 552.60,105.60 575.40,123.60 598.70,142.40 621.70,160.30 644.50,169.20 669.10,171.40" fill="none" stroke="#1A6FDF" stroke-width="1.1" stroke-linejoin="round"/>
<path d="M370.00 24.25L373.25 29.94L366.75 29.94Z" fill="#1A6FDF"/>
<path d="M392.20 24.55L395.45 30.24L388.95 30.24Z" fill="#1A6FDF"/>
<path d="M414.90 25.75L418.15 31.44L411.65 31.44Z" fill="#1A6FDF"/>
<path d="M437.80 32.55L441.05 38.24L434.55 38.24Z" fill="#1A6FDF"/>
<path d="M461.10 40.05L464.35 45.74L457.85 45.74Z" fill="#1A6FDF"/>
<path d="M484.30 52.55L487.55 58.24L481.05 58.24Z" fill="#1A6FDF"/>
<path d="M507.20 66.35L510.45 72.04L503.95 72.04Z" fill="#1A6FDF"/>
<path d="M529.60 83.55L532.85 89.24L526.35 89.24Z" fill="#1A6FDF"/>
<path d="M552.60 102.35L555.85 108.04L549.35 108.04Z" fill="#1A6FDF"/>
<path d="M575.40 120.35L578.65 126.04L572.15 126.04Z" fill="#1A6FDF"/>
<path d="M598.70 139.15L601.95 144.84L595.45 144.84Z" fill="#1A6FDF"/>
<path d="M621.70 157.05L624.95 162.74L618.45 162.74Z" fill="#1A6FDF"/>
<path d="M644.50 165.95L647.75 171.64L641.25 171.64Z" fill="#1A6FDF"/>
<path d="M669.10 168.15L672.35 173.84L665.85 173.84Z" fill="#1A6FDF"/>
<polyline points="370.00,27.50 392.20,28.00 414.90,30.80 437.80,36.80 461.10,45.10 484.30,58.20 507.20,78.00 529.60,99.60 552.60,121.20 575.40,140.90 598.70,160.30 621.70,174.90 644.50,185.30 669.10,188.60" fill="none" stroke="#37AD6B" stroke-width="1.1" stroke-linejoin="round"/>
<path d="M370.00 30.75L373.25 25.06L366.75 25.06Z" fill="#37AD6B"/>
<path d="M392.20 31.25L395.45 25.56L388.95 25.56Z" fill="#37AD6B"/>
<path d="M414.90 34.05L418.15 28.36L411.65 28.36Z" fill="#37AD6B"/>
<path d="M437.80 40.05L441.05 34.36L434.55 34.36Z" fill="#37AD6B"/>
<path d="M461.10 48.35L464.35 42.66L457.85 42.66Z" fill="#37AD6B"/>
<path d="M484.30 61.45L487.55 55.76L481.05 55.76Z" fill="#37AD6B"/>
<path d="M507.20 81.25L510.45 75.56L503.95 75.56Z" fill="#37AD6B"/>
<path d="M529.60 102.85L532.85 97.16L526.35 97.16Z" fill="#37AD6B"/>
<path d="M552.60 124.45L555.85 118.76L549.35 118.76Z" fill="#37AD6B"/>
<path d="M575.40 144.15L578.65 138.46L572.15 138.46Z" fill="#37AD6B"/>
<path d="M598.70 163.55L601.95 157.86L595.45 157.86Z" fill="#37AD6B"/>
<path d="M621.70 178.15L624.95 172.46L618.45 172.46Z" fill="#37AD6B"/>
<path d="M644.50 188.55L647.75 182.86L641.25 182.86Z" fill="#37AD6B"/>
<path d="M669.10 191.85L672.35 186.16L665.85 186.16Z" fill="#37AD6B"/>
<polyline points="370.00,27.50 392.20,28.20 414.90,33.50 437.80,41.00 461.10,49.40 484.30,62.50 507.20,75.80 529.60,90.20 552.60,105.20 575.40,117.40 598.70,129.30 621.70,138.70 644.50,145.70 669.10,148.00" fill="none" stroke="#B177DE" stroke-width="1.1" stroke-linejoin="round"/>
<path d="M370.00 23.99L373.51 27.50L370.00 31.01L366.49 27.50Z" fill="#B177DE"/>
<path d="M392.20 24.69L395.71 28.20L392.20 31.71L388.69 28.20Z" fill="#B177DE"/>
<path d="M414.90 29.99L418.41 33.50L414.90 37.01L411.39 33.50Z" fill="#B177DE"/>
<path d="M437.80 37.49L441.31 41.00L437.80 44.51L434.29 41.00Z" fill="#B177DE"/>
<path d="M461.10 45.89L464.61 49.40L461.10 52.91L457.59 49.40Z" fill="#B177DE"/>
<path d="M484.30 58.99L487.81 62.50L484.30 66.01L480.79 62.50Z" fill="#B177DE"/>
<path d="M507.20 72.29L510.71 75.80L507.20 79.31L503.69 75.80Z" fill="#B177DE"/>
<path d="M529.60 86.69L533.11 90.20L529.60 93.71L526.09 90.20Z" fill="#B177DE"/>
<path d="M552.60 101.69L556.11 105.20L552.60 108.71L549.09 105.20Z" fill="#B177DE"/>
<path d="M575.40 113.89L578.91 117.40L575.40 120.91L571.89 117.40Z" fill="#B177DE"/>
<path d="M598.70 125.79L602.21 129.30L598.70 132.81L595.19 129.30Z" fill="#B177DE"/>
<path d="M621.70 135.19L625.21 138.70L621.70 142.21L618.19 138.70Z" fill="#B177DE"/>
<path d="M644.50 142.19L648.01 145.70L644.50 149.21L640.99 145.70Z" fill="#B177DE"/>
<path d="M669.10 144.49L672.61 148.00L669.10 151.51L665.59 148.00Z" fill="#B177DE"/>
<polyline points="370.00,27.50 392.20,28.60 414.90,32.20 437.80,38.80 461.10,48.70 484.30,60.60 507.20,75.10 529.60,90.20 552.60,105.50 575.40,120.50 598.70,134.20 621.70,145.70 644.50,153.30 669.10,156.80" fill="none" stroke="#CC9900" stroke-width="1.1" stroke-linejoin="round"/>
<path d="M366.62 27.50L372.54 24.12L372.54 30.88Z" fill="#CC9900"/>
<path d="M388.82 28.60L394.74 25.22L394.74 31.98Z" fill="#CC9900"/>
<path d="M411.52 32.20L417.44 28.82L417.44 35.58Z" fill="#CC9900"/>
<path d="M434.42 38.80L440.34 35.42L440.34 42.18Z" fill="#CC9900"/>
<path d="M457.72 48.70L463.64 45.32L463.64 52.08Z" fill="#CC9900"/>
<path d="M480.92 60.60L486.84 57.22L486.84 63.98Z" fill="#CC9900"/>
<path d="M503.82 75.10L509.74 71.72L509.74 78.48Z" fill="#CC9900"/>
<path d="M526.22 90.20L532.13 86.82L532.13 93.58Z" fill="#CC9900"/>
<path d="M549.22 105.50L555.13 102.12L555.13 108.88Z" fill="#CC9900"/>
<path d="M572.02 120.50L577.93 117.12L577.93 123.88Z" fill="#CC9900"/>
<path d="M595.32 134.20L601.24 130.82L601.24 137.58Z" fill="#CC9900"/>
<path d="M618.32 145.70L624.24 142.32L624.24 149.08Z" fill="#CC9900"/>
<path d="M641.12 153.30L647.03 149.92L647.03 156.68Z" fill="#CC9900"/>
<path d="M665.72 156.80L671.63 153.42L671.63 160.18Z" fill="#CC9900"/>
</g>
<text transform="translate(523.28,9.10) scale(1,1.15)" text-anchor="middle" class="ti">Time/s</text>
<text transform="translate(358.50,145.00) rotate(-90) scale(1.027,1)" text-anchor="middle" class="ti">Vertical displacement/mm</text>
<text transform="translate(527.40,270.30) scale(1,1.0)" text-anchor="middle" class="pl">(b)</text>
<line x1="590.00" y1="64.10" x2="617.00" y2="64.10" stroke="#515151" stroke-width="1.1"/>
<rect x="601.10" y="61.70" width="4.80" height="4.80" fill="#515151"/>
<text transform="translate(619.40,68.20) scale(1,1.08)" text-anchor="start" class="lg">C1</text>
<line x1="632.60" y1="64.10" x2="659.60" y2="64.10" stroke="#F14040" stroke-width="1.1"/>
<circle cx="646.10" cy="64.10" r="2.60" fill="#F14040"/>
<text transform="translate(662.00,68.20) scale(1,1.08)" text-anchor="start" class="lg">C2</text>
<line x1="590.00" y1="78.55" x2="617.00" y2="78.55" stroke="#1A6FDF" stroke-width="1.1"/>
<path d="M603.50 75.30L606.75 80.99L600.25 80.99Z" fill="#1A6FDF"/>
<text transform="translate(619.40,82.65) scale(1,1.08)" text-anchor="start" class="lg">C3</text>
<line x1="632.60" y1="78.55" x2="659.60" y2="78.55" stroke="#37AD6B" stroke-width="1.1"/>
<path d="M646.10 81.80L649.35 76.11L642.85 76.11Z" fill="#37AD6B"/>
<text transform="translate(662.00,82.65) scale(1,1.08)" text-anchor="start" class="lg">C4</text>
<line x1="590.00" y1="93.00" x2="617.00" y2="93.00" stroke="#B177DE" stroke-width="1.1"/>
<path d="M603.50 89.49L607.01 93.00L603.50 96.51L599.99 93.00Z" fill="#B177DE"/>
<text transform="translate(619.40,97.10) scale(1,1.08)" text-anchor="start" class="lg">C5</text>
<line x1="632.60" y1="93.00" x2="659.60" y2="93.00" stroke="#CC9900" stroke-width="1.1"/>
<path d="M642.72 93.00L648.63 89.62L648.63 96.38Z" fill="#CC9900"/>
<text transform="translate(662.00,97.10) scale(1,1.08)" text-anchor="start" class="lg">C6</text>
</svg>
</body></html>
